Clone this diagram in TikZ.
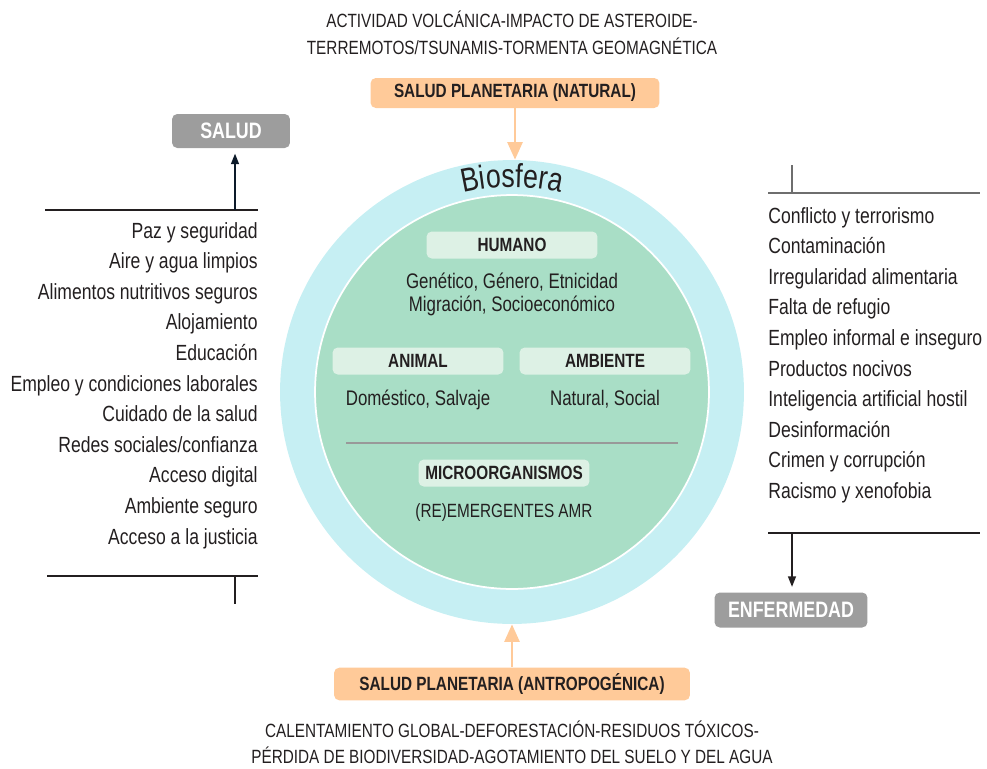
\documentclass[tikz,border=0pt]{standalone}
\usepackage{fontspec}
\setmainfont[FakeStretch=0.8]{Liberation Sans}
\usetikzlibrary{arrows.meta,positioning,decorations.text}
\definecolor{biocyan}{HTML}{C6EFF3}
\definecolor{biogreen}{HTML}{A9DEC6}
\definecolor{tagfill}{HTML}{DDF1E5}
\definecolor{planetorange}{HTML}{FFCA99}
\definecolor{boxgray}{HTML}{9D9D9D}
\definecolor{ink}{HTML}{231F20}
\definecolor{rulegray}{HTML}{6E6E6E}
\definecolor{navy}{HTML}{0D1B2A}
\tikzset{
  txt/.style={font=\fontsize{12}{14}\selectfont, text=ink, inner sep=0pt},
  listtxt/.style={txt, font=\fontsize{12.5}{14}\selectfont},
  captxt/.style={txt, font=\fontsize{10.9}{13}\selectfont},
  planetbox/.style={fill=planetorange, rounded corners=3pt, minimum height=0.6cm,
    font=\bfseries\fontsize{10.9}{13}\selectfont, text=ink},
  statebox/.style={fill=boxgray, rounded corners=3pt, text=white,
    font=\bfseries\fontsize{12.7}{15}\selectfont},
  tagbox/.style={fill=tagfill, rounded corners=3pt, minimum width=3.42cm,
    minimum height=0.54cm, font=\bfseries\fontsize{10.9}{12}\selectfont, text=ink},
  orangearrow/.style={draw=planetorange, line width=1.6pt, -{Triangle[length=10pt,width=8.5pt]}},
  darkarrow/.style={draw=navy, line width=0.9pt, -{Triangle[length=6pt,width=4.5pt]}},
}
\begin{document}
\begin{tikzpicture}[x=0.02cm,y=-0.02cm]
  \useasboundingbox (0,0) rectangle (987,768);

  % biosphere
  \node[circle, fill=biocyan, minimum size=9.28cm, inner sep=0pt] (bios) at (512,392) {};
  \node[circle, fill=biogreen, draw=white, line width=1pt, minimum size=7.88cm, inner sep=0pt] (core) at (512,392) {};
  \path[decorate, decoration={text along path, text align=center,
      text={|\fontsize{19}{21}\selectfont\color{ink}|Biosfera}}]
    (bios.center) ++(124:4.1cm) arc[start angle=124, end angle=56, radius=4.1cm];

  % inner groups
  \node[tagbox] (humano) at (512,245) {HUMANO};
  \node[txt, anchor=base] (humtxt1) at (512,288) {Genético, Género, Etnicidad};
  \node[txt, anchor=base] (humtxt2) at (512,311) {Migración, Socioeconómico};
  \node[tagbox] (animal) at (418,361) {ANIMAL};
  \node[txt, anchor=base] (animtxt) at (418,405) {Doméstico, Salvaje};
  \node[tagbox] (ambiente) at (605,361) {AMBIENTE};
  \node[txt, anchor=base] (ambtxt) at (605,405) {Natural, Social};
  \coordinate (sepl) at (346,443);
  \coordinate (sepr) at (678,443);
  \draw[draw=gray!80, line width=1pt] (sepl) -- (sepr);
  \node[tagbox] (micro) at (504,473) {MICROORGANISMOS};
  \node[captxt, anchor=base] (microtxt) at (504,517) {(RE)EMERGENTES AMR};

  % planetary health
  \node[captxt, anchor=base] (nattxt1) at (512,27) {ACTIVIDAD VOLCÁNICA-IMPACTO DE ASTEROIDE-};
  \node[captxt, anchor=base] (nattxt2) at (512,54) {TERREMOTOS/TSUNAMIS-TORMENTA GEOMAGNÉTICA};
  \node[planetbox, minimum width=5.78cm] (natural) at (515,93) {SALUD PLANETARIA (NATURAL)};
  \draw[orangearrow] (natural.south) -- (natural.south |- bios.north);
  \node[planetbox, minimum width=7.12cm] (antro) at (512,684) {SALUD PLANETARIA (ANTROPOGÉNICA)};
  \draw[orangearrow] (antro.north) -- (bios.south);
  \node[captxt, anchor=base] (antrotxt1) at (512,737) {CALENTAMIENTO GLOBAL-DEFORESTACIÓN-RESIDUOS TÓXICOS-};
  \node[captxt, anchor=base] (antrotxt2) at (512,763) {PÉRDIDA DE BIODIVERSIDAD-AGOTAMIENTO DEL SUELO Y DEL AGUA};

  % health determinants
  \node[statebox, minimum width=2.36cm, minimum height=0.68cm] (salud) at (231,131) {SALUD};
  \coordinate (stopl) at (45,210);
  \coordinate (stopr) at (258,210);
  \coordinate (stick) at (235,210);
  \draw[draw=ink, line width=0.8pt] (stopl) -- (stopr);
  \draw[darkarrow, shorten >=3pt] (stick) -- (stick |- salud.south);
  \foreach \item [count=\i] in {Paz y seguridad, Aire y agua limpios, Alimentos nutritivos seguros,
      Alojamiento, Educación, Empleo y condiciones laborales, Cuidado de la salud,
      Redes sociales/confianza, Acceso digital, Ambiente seguro, Acceso a la justicia}
    \node[listtxt, anchor=base east] (s\i) at (258,{238+30.6*(\i-1)}) {\item};
  \coordinate (sbotl) at (47,576);
  \coordinate (sbotr) at (258,576);
  \coordinate (sbott) at (235,576);
  \coordinate (sbote) at (235,604);
  \draw[draw=ink, line width=0.8pt] (sbotl) -- (sbotr);
  \draw[draw=ink, line width=0.8pt] (sbott) -- (sbote);

  % disease determinants
  \coordinate (etopl) at (768,193);
  \coordinate (etopr) at (980,193);
  \coordinate (etick) at (792,165);
  \coordinate (etickb) at (792,193);
  \draw[draw=rulegray, line width=0.8pt] (etopl) -- (etopr);
  \draw[draw=rulegray, line width=0.8pt] (etick) -- (etickb);
  \foreach \item [count=\i] in {Conflicto y terrorismo, Contaminación, Irregularidad alimentaria,
      Falta de refugio, Empleo informal e inseguro, Productos nocivos,
      Inteligencia artificial hostil, Desinformación, Crimen y corrupción, Racismo y xenofobia}
    \node[listtxt, anchor=base west] (e\i) at (768,{223+30.6*(\i-1)}) {\item};
  \coordinate (ebotl) at (768,533);
  \coordinate (ebotr) at (980,533);
  \coordinate (ebott) at (792,533);
  \draw[draw=ink, line width=0.8pt] (ebotl) -- (ebotr);
  \node[statebox, minimum width=3.06cm, minimum height=0.7cm] (enf) at (791,610) {ENFERMEDAD};
  \draw[darkarrow, draw=ink, shorten >=3pt] (ebott) -- (ebott |- enf.north);
\end{tikzpicture}
\end{document}
